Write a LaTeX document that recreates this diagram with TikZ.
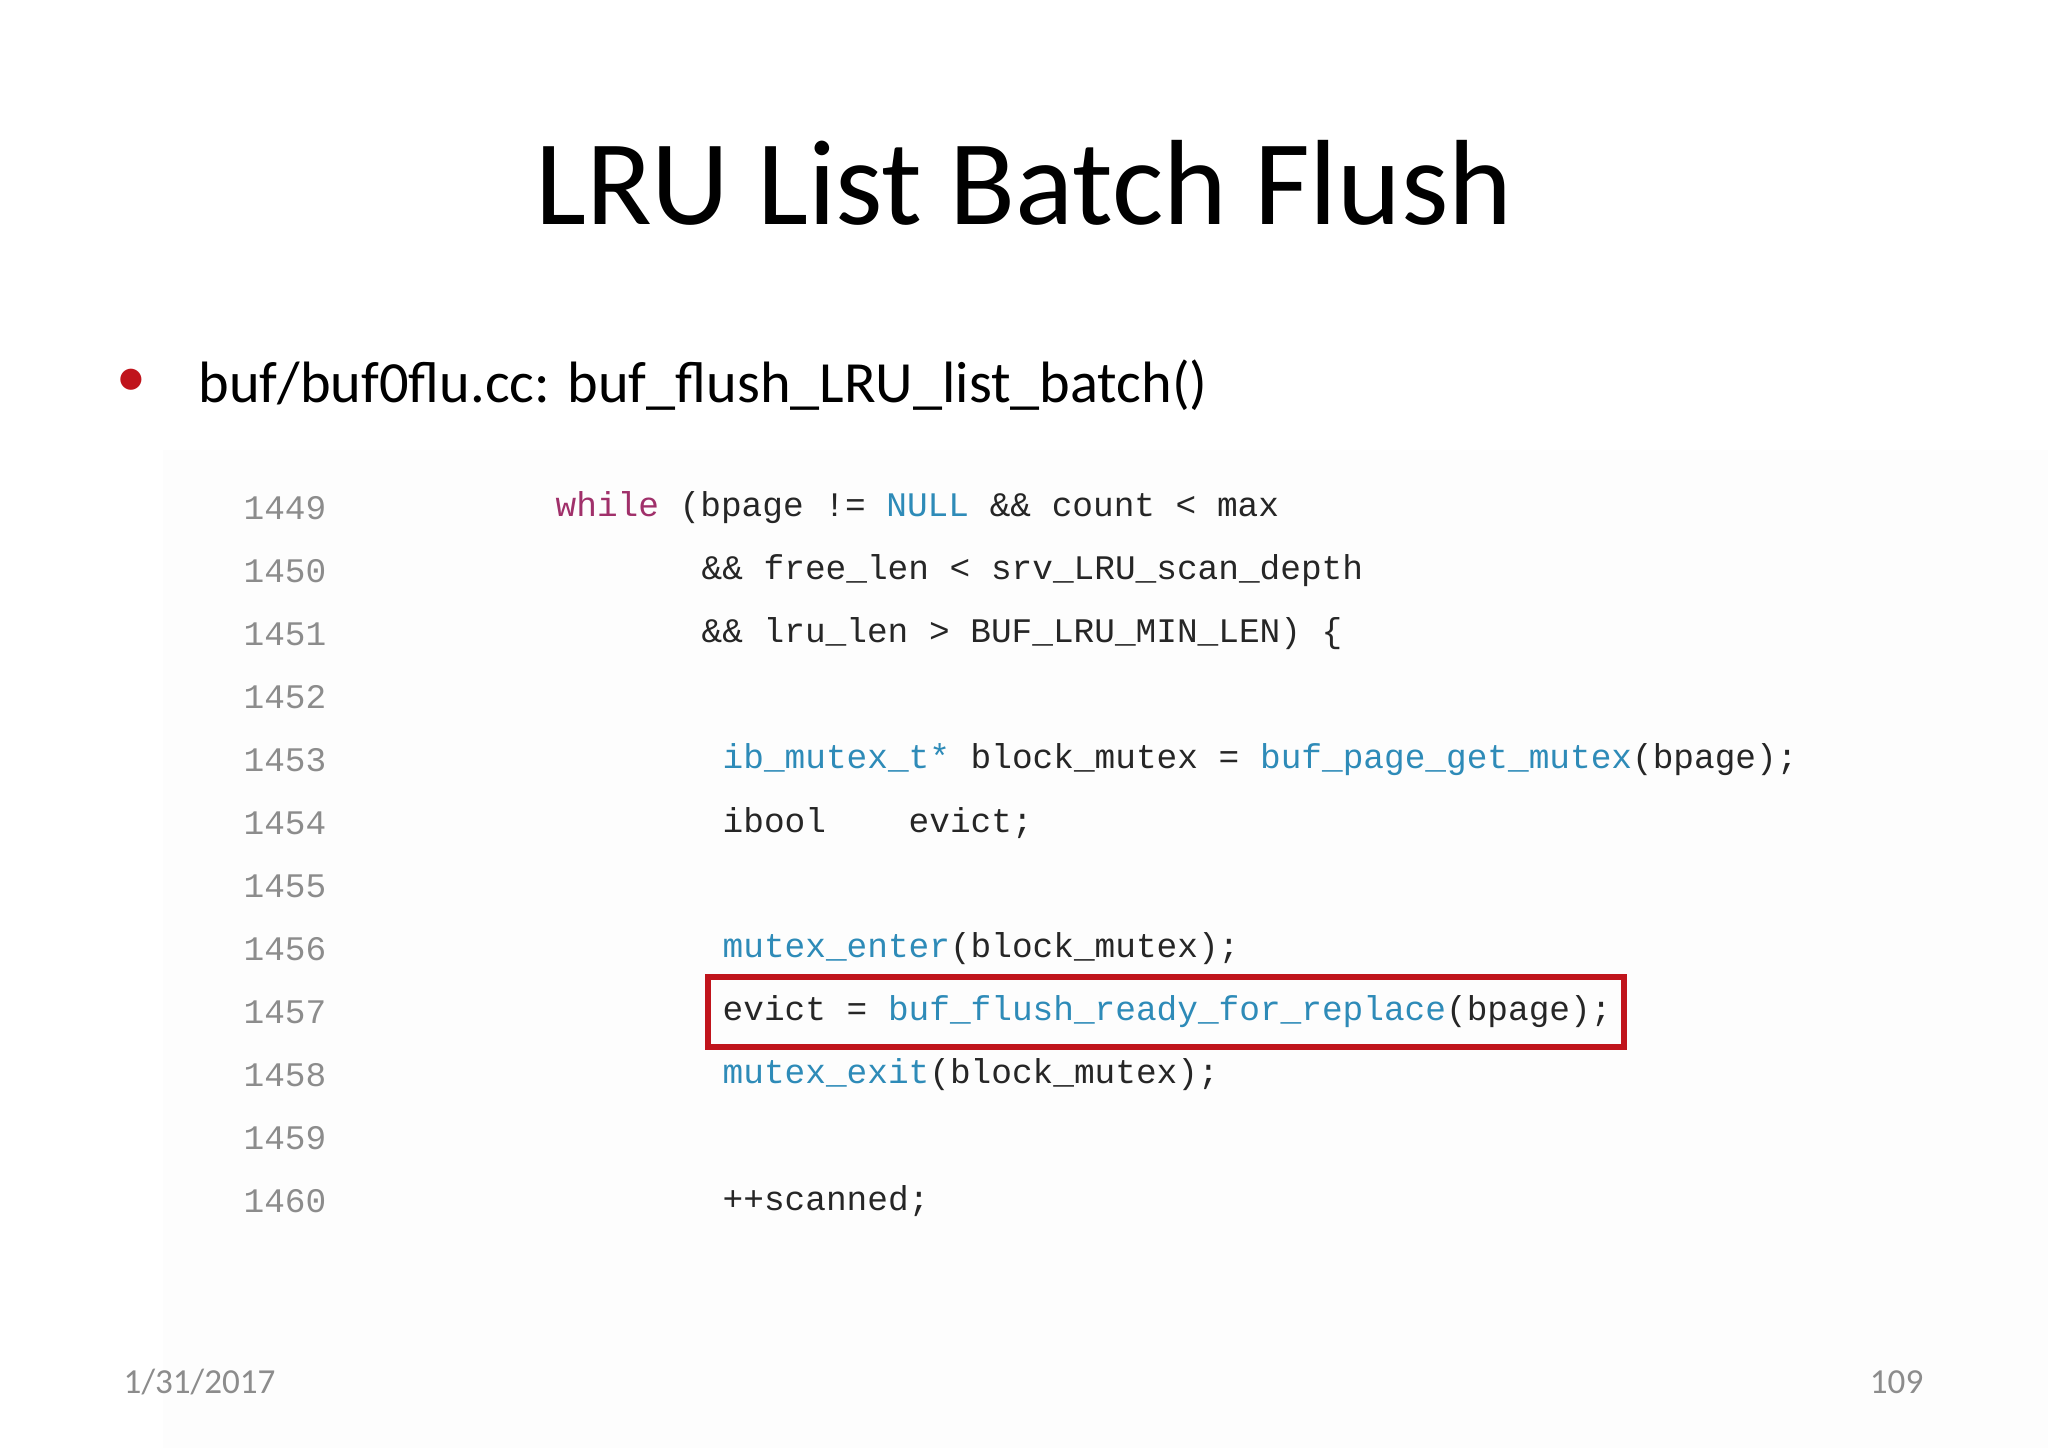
\documentclass[tikz,border=0pt]{standalone}
\usepackage{fontspec}
\setmainfont{Carlito}
\newfontfamily\codefont{Liberation Mono}
\usetikzlibrary{positioning}
\definecolor{kwcol}{HTML}{A0306A}
\definecolor{tycol}{HTML}{2E8BB8}
\definecolor{numcol}{HTML}{8C8C8C}
\definecolor{boxred}{HTML}{C0141C}
\tikzset{
  code/.style={anchor=west, inner sep=0pt, font=\codefont\fontsize{9.8}{11}\selectfont, text=black!85},
  lnum/.style={anchor=east, inner sep=0pt, font=\codefont\fontsize{9.8}{11}\selectfont, text=numcol}
}
\newcommand{\kw}[1]{\textcolor{kwcol}{#1}}
\newcommand{\ty}[1]{\textcolor{tycol}{#1}}
\begin{document}
\begin{tikzpicture}
	\useasboundingbox (0,0) rectangle (20.48,-14.48);
	\fill[white] (0,0) rectangle (20.48,-14.48);
	\fill[black!0.7] (1.63,-4.5) rectangle (20.48,-14.48);

	% title and bullet
	\node[font=\fontsize{34.5}{40}\selectfont] (title) at (10.24,-1.83) {LRU List Batch Flush};
	\node[text=boxred, font=\fontsize{17}{20}\selectfont] (dot) at (1.31,-3.83) {\textbullet};
	\node[anchor=west, inner sep=0pt, font=\fontsize{16.6}{20}\selectfont] (item) at (1.98,-3.85) {buf/buf0flu.cc: buf\_flush\_LRU\_list\_batch()};

	% line numbers
	\foreach \n [count=\i from 0] in {1449,...,1460}
		\node[lnum] (n\n) at (3.27,{-5.08-0.63*\i}) {\n};

	% code
	\node[code] (c1449) at (5.55,-5.08) {\kw{while} (bpage != \ty{NULL} \&\& count < max};
	\node[code] (c1450) at (7.01,-5.71) {\&\& free\_len < srv\_LRU\_scan\_depth};
	\node[code] (c1451) at (7.01,-6.34) {\&\& lru\_len > BUF\_LRU\_MIN\_LEN) \{};
	\node[code] (c1453) at (7.22,-7.60) {\ty{ib\_mutex\_t*} block\_mutex = \ty{buf\_page\_get\_mutex}(bpage);};
	\node[code] (c1454) at (7.22,-8.23) {ibool\ \ \ \ evict;};
	\node[code] (c1456) at (7.22,-9.49) {\ty{mutex\_enter}(block\_mutex);};
	\node[code] (c1457) at (7.22,-10.12) {evict = \ty{buf\_flush\_ready\_for\_replace}(bpage);};
	\node[code] (c1458) at (7.22,-10.75) {\ty{mutex\_exit}(block\_mutex);};
	\node[code] (c1460) at (7.22,-12.01) {++scanned;};

	\draw[boxred, line width=1.6pt] (7.08,-9.77) rectangle (16.24,-10.47);

	% footer
	\node[anchor=west, inner sep=0pt, text=numcol, font=\fontsize{10}{12}\selectfont] (date) at (1.23,-13.82) {1/31/2017};
	\node[anchor=east, inner sep=0pt, text=numcol, font=\fontsize{10}{12}\selectfont] (page) at (19.24,-13.82) {109};
\end{tikzpicture}
\end{document}
